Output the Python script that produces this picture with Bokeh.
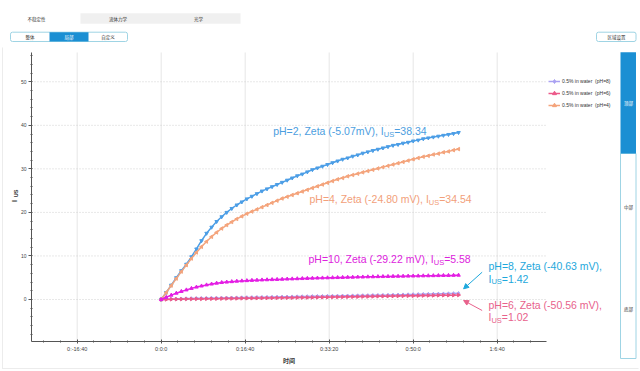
import math
from bokeh.plotting import figure
from bokeh.models import (Range1d, FixedTicker, SingleIntervalTicker, Label, BoxAnnotation,
                          Legend, LegendItem, Arrow, NormalHead, ColumnDataSource, LinearAxis)
from bokeh.embed import file_html
from bokeh.resources import INLINE

# ---------------- data ----------------
minutes = [0, 1, 2, 3, 4, 5, 6, 7, 8, 9, 10, 11, 12, 13, 14, 15, 16, 17, 18, 19,
           20, 21, 22, 23, 24, 25, 26, 27, 28, 29, 30, 31, 32, 33, 34, 35, 36, 37, 38, 39,
           40, 41, 42, 43, 44, 45, 46, 47, 48, 49, 50, 51, 52, 53, 54, 55, 56, 57, 58, 59]

ius_ph2 = [0, 1.6, 3.3, 5.0, 6.6, 8.1, 9.8, 11.6, 13.5, 15.2, 16.6, 17.9, 19.0, 20.0, 20.9, 21.7,
           22.4, 23.1, 23.7, 24.3, 24.9, 25.4, 25.9, 26.4, 26.9, 27.4, 27.9, 28.4, 28.8, 29.3,
           29.8, 30.2, 30.6, 31.0, 31.4, 31.8, 32.2, 32.5, 32.9, 33.2, 33.6, 33.9, 34.2, 34.5,
           34.8, 35.1, 35.4, 35.6, 35.9, 36.1, 36.4, 36.6, 36.9, 37.1, 37.3, 37.5, 37.7, 37.9,
           38.1, 38.34]
ius_ph4 = [0, 1.6, 3.2, 4.8, 6.4, 7.9, 9.4, 10.8, 12.1, 13.3, 14.4, 15.4, 16.3, 17.1, 17.8, 18.5,
           19.1, 19.7, 20.2, 20.7, 21.2, 21.7, 22.2, 22.7, 23.2, 23.6, 24.0, 24.4, 24.8, 25.2,
           25.6, 26.0, 26.4, 26.8, 27.2, 27.6, 27.9, 28.3, 28.6, 28.9, 29.2, 29.5, 29.8, 30.1,
           30.4, 30.7, 31.0, 31.3, 31.6, 31.9, 32.2, 32.5, 32.8, 33.0, 33.3, 33.5, 33.8, 34.0,
           34.3, 34.54]
ius_ph10 = [0, 0.5, 1.0, 1.45, 1.85, 2.2, 2.55, 2.85, 3.1, 3.35, 3.55, 3.75, 3.9, 4.0, 4.1, 4.2,
            4.27, 4.33, 4.39, 4.44, 4.49, 4.53, 4.57, 4.61, 4.65, 4.69, 4.73, 4.77, 4.81, 4.85,
            4.89, 4.92, 4.95, 4.98, 5.01, 5.04, 5.07, 5.1, 5.12, 5.15, 5.17, 5.2, 5.22, 5.25,
            5.27, 5.29, 5.31, 5.33, 5.35, 5.37, 5.39, 5.41, 5.43, 5.45, 5.47, 5.49, 5.51, 5.53,
            5.55, 5.58]
ius_ph8 = [0, 0.05, 0.09, 0.13, 0.17, 0.2, 0.23, 0.26, 0.28, 0.3, 0.32, 0.34, 0.36, 0.38, 0.4,
           0.42, 0.44, 0.46, 0.48, 0.5, 0.52, 0.54, 0.56, 0.58, 0.6, 0.62, 0.64, 0.66, 0.68, 0.7,
           0.72, 0.74, 0.76, 0.78, 0.8, 0.82, 0.84, 0.86, 0.88, 0.9, 0.92, 0.94, 0.96, 0.98, 1.0,
           1.02, 1.05, 1.07, 1.1, 1.13, 1.16, 1.18, 1.21, 1.24, 1.27, 1.3, 1.33, 1.36, 1.39, 1.42]
ius_ph6 = [0, 0.02, 0.04, 0.06, 0.08, 0.1, 0.11, 0.13, 0.14, 0.16, 0.17, 0.19, 0.2, 0.22, 0.23,
           0.25, 0.26, 0.28, 0.29, 0.31, 0.32, 0.34, 0.35, 0.37, 0.38, 0.4, 0.41, 0.43, 0.44, 0.46,
           0.47, 0.49, 0.51, 0.53, 0.55, 0.57, 0.59, 0.61, 0.63, 0.65, 0.67, 0.69, 0.71, 0.73,
           0.75, 0.77, 0.79, 0.81, 0.83, 0.85, 0.86, 0.88, 0.9, 0.92, 0.93, 0.95, 0.97, 0.98,
           1.0, 1.02]

x_tick_values = [-1000, 0, 1000, 2000, 3000, 4000]
x_tick_labels = ["0:-16:40", "0:0:0", "0:16:40", "0:33:20", "0:50:0", "1:6:40"]
y_tick_values = [0, 10, 20, 30, 40, 50]
legend_labels = ["0.5% in water  (pH=8)", "0.5% in water  (pH=6)", "0.5% in water  (pH=4)"]
tab_labels = ["不稳定性", "流体力学", "光学"]
view_buttons = ["整体", "局部", "自定义"]
region_button = "区域设置"
region_labels = ["顶部", "中部", "底部"]
x_title = "时间"

seconds = [m * 60 for m in minutes]

# axis extents (data units) of the chart area
X0, X1 = -1544, 4587
Y0, Y1 = -9.65, 56.73

W, H = 640, 371
# ---------------- figure (frame covers the whole canvas) ----------------
p = figure(width=W, height=H, output_backend="svg", toolbar_location=None,
           x_range=Range1d(-1913.1, 5706.0), y_range=Range1d(-16.54, 68.67),
           x_axis_location=None, y_axis_location=None,
           min_border=0, min_border_left=0, min_border_right=0, min_border_top=0,
           min_border_bottom=0)
p.background_fill_color = "white"
p.border_fill_color = "white"
p.outline_line_color = None
p.grid.visible = False

AXIS_FONT = "Liberation Sans"
xaxis = LinearAxis(fixed_location=Y0, bounds=(X0, X1),
                   ticker=FixedTicker(ticks=x_tick_values, minor_ticks=list(range(-1400, 4600, 200))))
xaxis.major_label_overrides = dict(zip(x_tick_values, x_tick_labels))
yaxis = LinearAxis(fixed_location=X0, bounds=(Y0, Y1),
                   ticker=SingleIntervalTicker(interval=10, num_minor_ticks=5))
for ax in (xaxis, yaxis):
    ax.axis_line_color = "#555555"
    ax.major_tick_line_color = "#555555"
    ax.minor_tick_line_color = "#555555"
    ax.major_label_text_font = AXIS_FONT
    ax.major_label_text_color = "#444444"
    ax.major_label_text_font_size = "5px"
    ax.major_label_standoff = 2
xaxis.major_label_text_font_size = "5.5px"
xaxis.major_tick_in = 2
xaxis.major_tick_out = 2
xaxis.minor_tick_in = 1
xaxis.minor_tick_out = 1
yaxis.major_tick_in = 0
yaxis.major_tick_out = 3
yaxis.minor_tick_in = 1
yaxis.minor_tick_out = 1
xaxis.axis_label = x_title
xaxis.axis_label_text_font = "Noto Sans CJK SC"
xaxis.axis_label_text_font_size = "6px"
xaxis.axis_label_text_font_style = "bold"
xaxis.axis_label_text_color = "#333333"
xaxis.axis_label_standoff = 1
p.add_layout(xaxis, "below")
p.add_layout(yaxis, "left")

# grid lines limited to the chart area
p.segment(x0=x_tick_values, y0=[Y0] * len(x_tick_values), x1=x_tick_values,
          y1=[Y1] * len(x_tick_values), line_color="#e6e6e6", line_width=1, level="underlay")
p.segment(x0=[X0] * len(y_tick_values), y0=y_tick_values, x1=[X1] * len(y_tick_values),
          y1=y_tick_values, line_color="#d0d0d0", line_width=1, line_dash="1 2", level="underlay")

# ---------------- series ----------------
series = [
    ("pH=2", ius_ph2, "#4c9ee6", "inverted_triangle", 0.0),
    ("pH=4", ius_ph4, "#f4a47c", "triangle", math.pi / 2),
    ("pH=8", ius_ph8, "#aaa2f2", "diamond", 0.0),
    ("pH=6", ius_ph6, "#ec5a8a", "triangle", -math.pi / 2),
    ("pH=10", ius_ph10, "#e41ee4", "triangle", 0.0),
]
rend = {}
for name, vals, color, marker, ang in series:
    src = ColumnDataSource(dict(t=seconds, v=vals))
    lr = p.line("t", "v", source=src, line_color=color, line_width=1.5)
    sr = p.scatter("t", "v", source=src, marker=marker, angle=ang, size=3.5,
                   fill_color=color, line_color=color)
    rend[name] = (lr, sr)

legend = Legend(items=[LegendItem(label=legend_labels[0], renderers=list(rend["pH=8"])),
                       LegendItem(label=legend_labels[1], renderers=list(rend["pH=6"])),
                       LegendItem(label=legend_labels[2], renderers=list(rend["pH=4"]))],
                location=(548, 261.3), orientation="vertical", padding=0, margin=0, spacing=2,
                glyph_width=12, glyph_height=10, label_height=10, label_standoff=2,
                label_text_font=AXIS_FONT, label_text_font_size="5px",
                label_text_color="#333333",
                border_line_color=None, background_fill_alpha=0)
p.add_layout(legend)

# ---------------- annotations with subscript ----------------
AW = {' ': 278, ',': 278, '-': 333, '.': 278, '(': 333, ')': 333, '=': 584, 'H': 722, 'I': 278,
      'S': 667, 'U': 722, 'V': 667, 'Z': 611, 'a': 556, 'e': 556, 'm': 833, 'p': 556, 't': 278}
for d in "0123456789":
    AW[d] = 556

def tw(s, size):
    return sum(AW.get(c, 556) for c in s) / 1000.0 * size

MAIN = 10.5
SUB = 7.5

def rich(x, y, parts, color):
    off = 0.0
    for txt, sub in parts:
        size = SUB if sub else MAIN
        p.add_layout(Label(x=x, y=y, x_offset=off, y_offset=-3 if sub else 0, text=txt,
                           text_font="Liberation Sans", text_font_size=f"{size}px",
                           text_color=color, text_baseline="middle", text_align="left"))
        off += tw(txt, size)

notes = [
    (1333, 38.65, "#4c9ee0", [("pH=2, Zeta (-5.07mV), I", 0), ("US", 1), ("=38.34", 0)]),
    (1765, 22.97, "#f2a07a", [("pH=4, Zeta (-24.80 mV), I", 0), ("US", 1), ("=34.54", 0)]),
    (1754, 9.19, "#dd22dd", [("pH=10, Zeta (-29.22 mV), I", 0), ("US", 1), ("=5.58", 0)]),
    (3896, 7.58, "#1ea8dc", [("pH=8, Zeta (-40.63 mV),", 0)]),
    (3896, 4.75, "#1ea8dc", [("I", 0), ("US", 1), ("=1.42", 0)]),
    (3896, -1.38, "#e8628c", [("pH=6, Zeta (-50.56 mV),", 0)]),
    (3896, -4.07, "#e8628c", [("I", 0), ("US", 1), ("=1.02", 0)]),
]
for x, y, c, parts in notes:
    rich(x, y, parts, c)

for (xs, ys, xe, ye, c) in [(3821, 6.27, 3600, 2.45, "#1ea8dc"), (3821, -2.53, 3600, -0.23, "#e8628c")]:
    p.add_layout(Arrow(x_start=xs, y_start=ys, x_end=xe, y_end=ye, line_color=c, line_width=1,
                       end=NormalHead(size=5, fill_color=c, line_color=c)))

# y axis title I_US (rotated)
p.add_layout(Label(x=13.5, y=H - 200.5, x_units="screen", y_units="screen", text="I", angle=math.pi / 2,
                   text_font="Liberation Sans", text_font_size="7px", text_font_style="bold",
                   text_color="#333333", text_align="center", text_baseline="middle"))
p.add_layout(Label(x=15.5, y=H - 193, x_units="screen", y_units="screen", text="US", angle=math.pi / 2,
                   text_font="Liberation Sans", text_font_size="5.5px", text_font_style="bold",
                   text_color="#333333", text_align="center", text_baseline="middle"))

# ---------------- UI chrome (screen units, page pixels; y measured from top) ----------------
def box(x0, x1, y0, y1, fill, line=None, radius=0, falpha=1):
    p.add_layout(BoxAnnotation(left=x0, right=x1, top=H - y0, bottom=H - y1, left_units="screen",
                               right_units="screen", top_units="screen", bottom_units="screen",
                               fill_color=fill, fill_alpha=falpha, line_color=line,
                               line_alpha=1 if line else 0, line_width=1, border_radius=radius,
                               level="underlay"))

def ui_text(x, y, s, color="#333333", size="4.5px"):
    p.add_layout(Label(x=x, y=H - y, x_units="screen", y_units="screen", text=s,
                       text_font="Noto Sans CJK SC", text_font_size=size, text_color=color,
                       text_align="center", text_baseline="middle"))

# card outline (left and bottom edges only)
box(1.5, 2.5, 47, 368, "#ececec")
box(1.5, 638, 367.5, 368.5, "#ececec")

# tabs
box(80, 240, 12.7, 23.3, "#f0f0f0")
for cx, s in zip([36, 117.5, 198], tab_labels):
    ui_text(cx, 18, s)

# view buttons
box(10, 127, 31.7, 41, "white", "#9fd4e4", 2)
box(49, 88, 31.7, 41, "#1b8fd3")
for cx, s, col in zip([29.5, 68.5, 107.5], view_buttons, ["#333333", "white", "#333333"]):
    ui_text(cx, 36.5, s, col)

# region settings button
box(596, 635.5, 31.7, 41, "white", "#9fd4e4", 2)
ui_text(616, 36.5, region_button)

# right side bar
box(620, 635.5, 153, 358, "white", "#9fd4e4")
box(620, 635.5, 51.7, 153, "#1b8fd3")
for cy, s, col in zip([102, 206, 308], region_labels, ["white", "#333333", "#333333"]):
    ui_text(628, cy, s, col)

open("out.html", "w").write(file_html(p, INLINE))
